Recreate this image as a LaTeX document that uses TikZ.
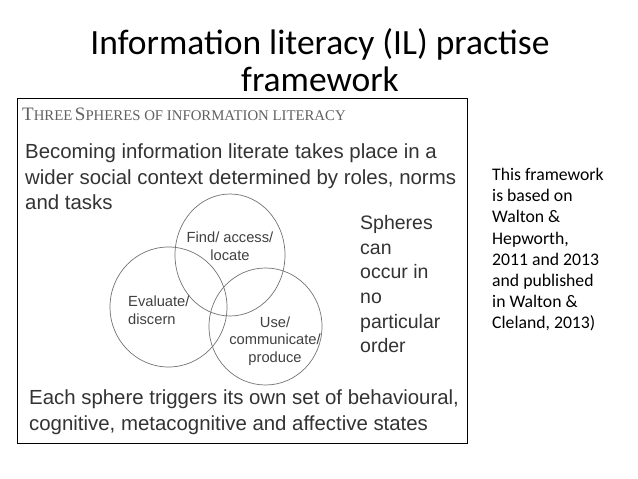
\documentclass[tikz,border=0pt]{standalone}
\usepackage{fontspec}
\newfontfamily\calib{Carlito}
\newfontfamily\arialf{Liberation Sans}
\newfontfamily\timesf{Liberation Serif}
\newcommand{\fsc}[2]{{\fontsize{19}{20}\selectfont #1}{\fontsize{14.8}{20}\selectfont #2}}
\begin{document}
\begin{tikzpicture}[x=1pt,y=-1pt,
  body/.style={font={\arialf\fontsize{20.4}{25.3}\selectfont},text=black!80,inner sep=0pt,align=left},
  lab/.style={font={\arialf\fontsize{14.7}{17.5}\selectfont},text=black!75,inner sep=0pt},
  sph/.style={draw=black!55,line width=0.7pt}]
\fill[white] (0,0) rectangle (638,479);
\useasboundingbox (0,0) rectangle (638,479);
\node[font={\calib\fontsize{35.5}{37.5}\selectfont},align=center,inner sep=0pt] (title) at (320,60) {Information literacy (IL) practise\\framework};
\draw[black,line width=0.9pt] (17,98) rectangle (467,443);
\node[anchor=west,inner sep=0pt,text=black!62,font=\timesf] (head) at (22,114) {\fsc{T}{HREE} \fsc{S}{PHERES OF INFORMATION LITERACY}};
\node[body,anchor=north west] (intro) at (25,144) {Becoming information literate takes place in a\\wider social context determined by roles, norms\\and tasks};
\draw[sph] (230,255) ellipse [x radius=55,y radius=61];
\draw[sph] (168.5,307) ellipse [x radius=58.5,y radius=60];
\draw[sph] (265.5,326.5) ellipse [x radius=56.5,y radius=58.5];
\node[lab,align=center] (find) at (230,246) {Find/ access/\\locate};
\node[lab,align=left,anchor=west] (eval) at (128,310) {Evaluate/\\discern};
\node[lab,align=center] (use) at (275,341) {Use/\\communicate/\\produce};
\node[body,anchor=north west,font={\arialf\fontsize{19.5}{24.7}\selectfont}] (spheres) at (360,215) {Spheres\\can\\occur in\\no\\particular\\order};
\node[body,anchor=north west] (each) at (29,390) {Each sphere triggers its own set of behavioural,\\cognitive, metacognitive and affective states};
\node[anchor=north west,align=left,inner sep=0pt,font={\calib\fontsize{17.7}{21.2}\selectfont}] (note) at (492,168) {This framework\\is based on\\Walton \&\\Hepworth,\\2011 and 2013\\and published\\in Walton \&\\Cleland, 2013)};
\end{tikzpicture}
\end{document}
